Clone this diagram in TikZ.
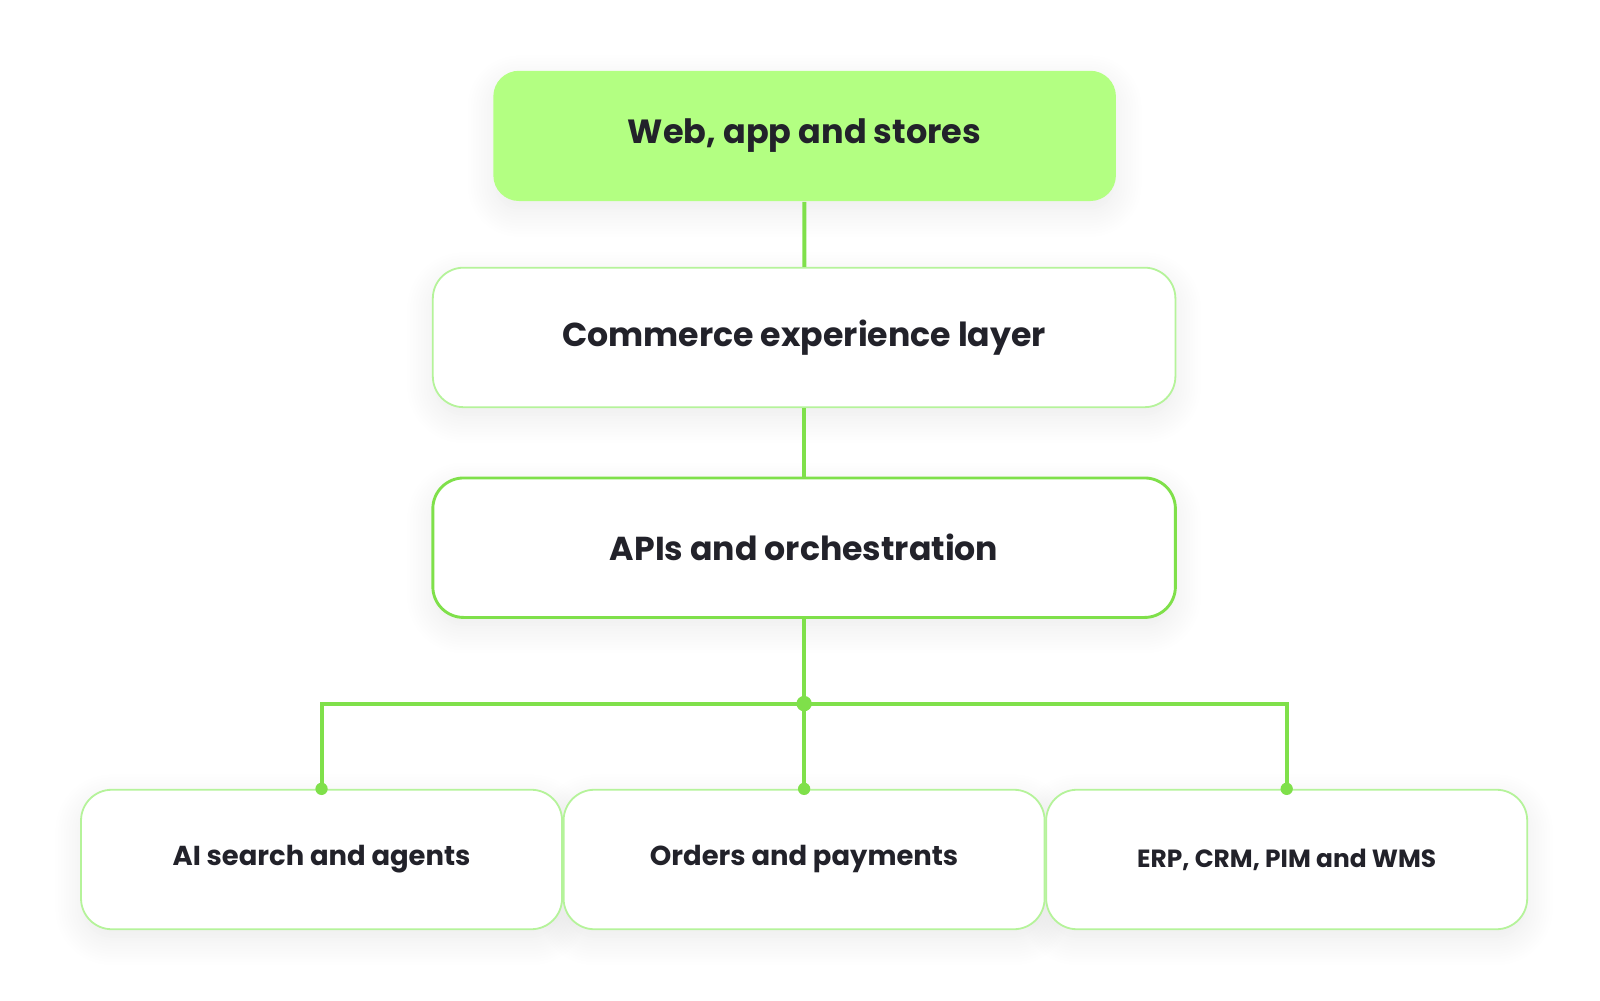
\documentclass[tikz,border=0pt]{standalone}
\usepackage{fontspec}
\setmainfont{Poppins}
\usetikzlibrary{shadows.blur}
\definecolor{leaf}{HTML}{7FE04A}
\definecolor{leaflight}{HTML}{B3FF82}
\definecolor{leafedge}{HTML}{B5F39A}
\definecolor{ink}{HTML}{22222A}
\tikzset{
  soft/.style={blur shadow={shadow xshift=0pt, shadow yshift=-0.1cm, shadow blur radius=0.25cm, shadow blur steps=10, shadow opacity=8}},
  plain/.style={draw=leafedge, line width=0.5pt, fill=white, rounded corners=0.3cm,
    minimum width=7.24cm, minimum height=1.36cm, text=ink, font=\bfseries\fontsize{9.2}{11}\selectfont},
  layer/.style={plain, soft},
  system/.style={plain, minimum width=4.69cm, font=\bfseries\fontsize{7.6}{9}\selectfont},
  link/.style={leaf, line width=1.1pt}
}
\begin{document}
\begin{tikzpicture}

        \useasboundingbox (0,0) rectangle (15.6,9.75);

        \node[layer, fill=leaflight, draw=none, minimum width=6.07cm, minimum height=1.27cm, rounded corners=0.25cm, font=\bfseries\fontsize{9.3}{11}\selectfont] (web) at (7.845,8.425) {Web, app and stores};
        \node[layer] (cel) at (7.84,6.46) {Commerce experience layer};
        \node[layer, draw=leaf, line width=0.8pt] (api) at (7.84,4.41) {APIs and orchestration};

        % shadows of the bottom row first, so they stay behind all three boxes
        \foreach \x in {3.135, 7.84, 12.545}
          \path[soft, rounded corners=0.3cm] (\x-2.345,0.69) rectangle (\x+2.345,2.05);

        \node[system] (ai) at (3.135,1.37) {AI search and agents};
        \node[system] (ord) at (7.84,1.37) {Orders and payments};
        \node[system, font=\bfseries\fontsize{6.9}{9}\selectfont] (erp) at (12.545,1.37) {ERP, CRM, PIM and WMS};

        \coordinate (hub) at (7.84,2.89);

        \draw[link] (web) -- (cel);
        \draw[link] (cel) -- (api);
        \draw[link] (api) -- (hub);
        \draw[link] (hub) -- (ord);
        \draw[link] (hub) -| (ai);
        \draw[link] (hub) -| (erp);

        \fill[leaf] (hub) circle (0.075);
        \foreach \n in {ai, ord, erp}
          \fill[leaf] (\n.north) circle (0.06);

      \end{tikzpicture}
\end{document}
